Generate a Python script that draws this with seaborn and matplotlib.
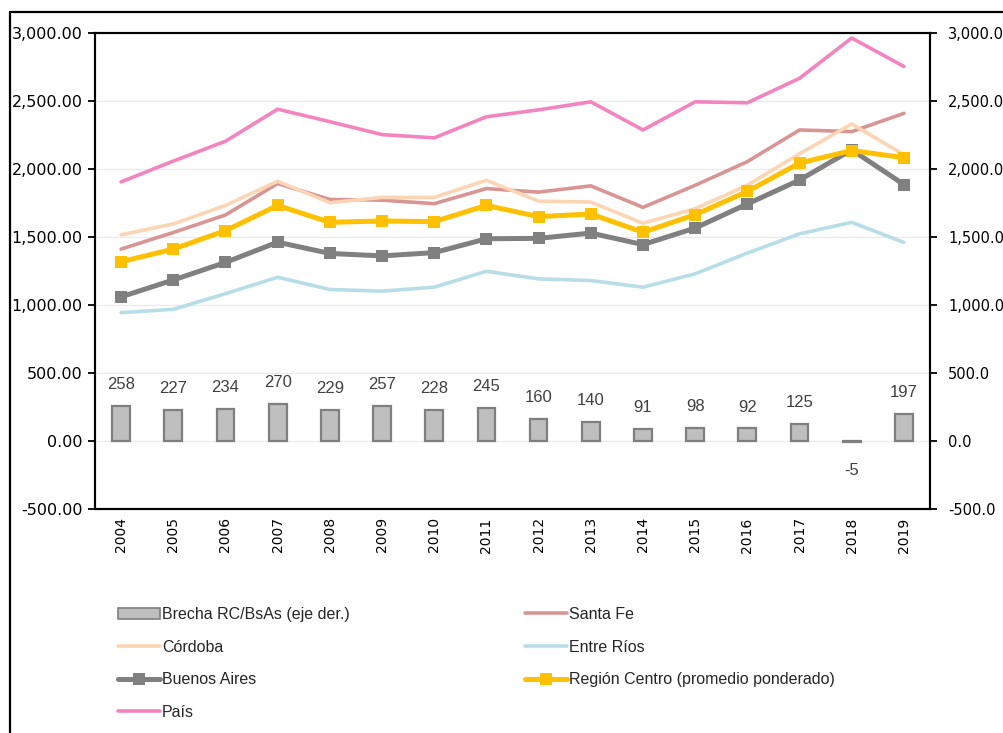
import matplotlib
matplotlib.use("Agg")
import matplotlib.pyplot as plt
from matplotlib.lines import Line2D
from matplotlib.patches import Patch
from matplotlib.ticker import FuncFormatter, MultipleLocator
import numpy as np
import pandas as pd
import seaborn as sns

# ---- data ----
years = [2004, 2005, 2006, 2007, 2008, 2009, 2010, 2011,
         2012, 2013, 2014, 2015, 2016, 2017, 2018, 2019]
brecha = [258, 227, 234, 270, 229, 257, 228, 245, 160, 140, 91, 98, 92, 125, -5, 197]
santa_fe = [1411, 1533, 1662, 1893, 1776, 1771, 1745, 1856,
            1830, 1876, 1718, 1880, 2054, 2287, 2275, 2409]
cordoba = [1516, 1596, 1732, 1910, 1752, 1791, 1791, 1917,
           1764, 1757, 1601, 1708, 1881, 2112, 2331, 2105]
entre_rios = [944, 968, 1083, 1204, 1114, 1102, 1131, 1248,
              1192, 1180, 1131, 1229, 1382, 1523, 1608, 1460]
buenos_aires = [1060, 1184, 1313, 1462, 1379, 1361, 1385, 1487,
                1490, 1529, 1444, 1566, 1743, 1919, 2141, 1886]
region_centro = [1318, 1411, 1547, 1732, 1608, 1618, 1613, 1732,
                 1650, 1669, 1535, 1664, 1835, 2044, 2136, 2083]
pais = [1905, 2058, 2204, 2440, 2348, 2253, 2229, 2384,
        2435, 2494, 2287, 2494, 2487, 2667, 2963, 2754]

# ---- style ----
sns.set_style("white")
plt.rcParams["font.family"] = ["DejaVu Sans"]
NARROW = ["Liberation Sans Narrow", "Liberation Sans", "DejaVu Sans"]

W, H = 1004, 733
fig = plt.figure(figsize=(W / 100, H / 100), dpi=100)
fig.patch.set_facecolor("white")

x0, x1, y0, y1 = 95, 930, 33, 509
ax = fig.add_axes([x0 / W, 1 - y1 / H, (x1 - x0) / W, (y1 - y0) / H])
ax2 = ax.twinx()

pos = np.arange(len(years))

# series drawn on the left axis (lines)
series = [
    ("Santa Fe", santa_fe, "#D99594", 2.6, None),
    ("Córdoba", cordoba, "#FCD5B5", 2.6, None),
    ("Entre Ríos", entre_rios, "#B7DEE8", 2.6, None),
    ("Buenos Aires", buenos_aires, "#808080", 3.6, "s"),
    ("Región Centro (promedio ponderado)", region_centro, "#FFC000", 3.6, "s"),
    ("País", pais, "#F484C0", 2.6, None),
]

for k, (name, vals, col, lw, mk) in enumerate(series):
    df = pd.DataFrame({"pos": pos, "valor": vals})
    kw = dict(marker=mk, markersize=9, markeredgewidth=0) if mk else {}
    sns.lineplot(data=df, x="pos", y="valor", ax=ax, color=col, linewidth=lw,
                 legend=False, zorder=3 + k, **kw)

# gap bars on the right axis
bar_df = pd.DataFrame({"anio": [str(y) for y in years], "brecha": brecha})
sns.barplot(data=bar_df, x="anio", y="brecha", ax=ax2, color="#BFBFBF",
            edgecolor="#7F7F7F", linewidth=1.6, width=0.34, saturation=1)

for i, v in enumerate(brecha):
    if v >= 0:
        ax2.annotate(f"{v}", (i, v), xytext=(0, 10), textcoords="offset points",
                     ha="center", va="bottom", fontsize=12, color="#404040",
                     family=NARROW)
    else:
        ax2.annotate(f"{v}", (i, v), xytext=(0, -15), textcoords="offset points",
                     ha="center", va="top", fontsize=12, color="#404040",
                     family=NARROW)

# ---- axes ----
for a in (ax, ax2):
    a.set_ylim(-500, 3000)
    a.yaxis.set_major_locator(MultipleLocator(500))
    a.set_xlabel("")
    a.set_ylabel("")
    for s in a.spines.values():
        s.set_color("black")
        s.set_linewidth(1.5)

ax.set_xlim(-0.5, len(years) - 0.5)
ax.set_xticks(pos)
ax.set_xticklabels([str(y) for y in years], rotation=90, fontsize=10, color="black")
ax.tick_params(axis="x", length=0, pad=6)
ax.tick_params(axis="y", direction="out", length=5, width=1.3, pad=4,
               labelsize=11.5, colors="black", left=True)
ax.yaxis.set_major_formatter(FuncFormatter(lambda v, p: f"{v:,.2f}"))

ax2.tick_params(axis="y", direction="out", length=5, width=1.3, pad=8,
                labelsize=10.5, colors="black", right=True)
ax2.yaxis.set_major_formatter(FuncFormatter(lambda v, p: f"{v:,.1f}"))

ax.grid(axis="y", color="#EBEBEB", linewidth=1.0)
ax.grid(axis="x", visible=False)
ax2.grid(False)
ax.set_axisbelow(True)

# ---- legend (two columns) ----
col_a = [
    Patch(facecolor="#BFBFBF", edgecolor="#7F7F7F", linewidth=1.2,
          label="Brecha RC/BsAs (eje der.)"),
    Line2D([], [], color="#FCD5B5", lw=2.6, label="Córdoba"),
    Line2D([], [], color="#808080", lw=3.6, marker="s", markersize=9,
           markeredgewidth=0, label="Buenos Aires"),
    Line2D([], [], color="#F484C0", lw=2.6, label="País"),
]
col_b = [
    Line2D([], [], color="#D99594", lw=2.6, label="Santa Fe"),
    Line2D([], [], color="#B7DEE8", lw=2.6, label="Entre Ríos"),
    Line2D([], [], color="#FFC000", lw=3.6, marker="s", markersize=9,
           markeredgewidth=0, label="Región Centro (promedio ponderado)"),
]
leg_kw = dict(frameon=False, handlelength=2.6, handletextpad=0.15,
              labelspacing=1.1, borderaxespad=0, borderpad=0,
              prop={"family": NARROW, "size": 11.5}, loc="upper left",
              numpoints=1)
fig.legend(handles=col_a, bbox_to_anchor=(118 / W, 1 - 607 / H), **leg_kw)
fig.legend(handles=col_b, bbox_to_anchor=(525 / W, 1 - 607 / H), **leg_kw)

# chart-area frame
fig.add_artist(Line2D([10 / W, 10 / W], [0, 1 - 12 / H], transform=fig.transFigure,
                      color="black", lw=1.6))
fig.add_artist(Line2D([10 / W, 1], [1 - 12 / H, 1 - 12 / H], transform=fig.transFigure,
                      color="black", lw=1.6))

fig.savefig("out.png", dpi=100, facecolor="white")
